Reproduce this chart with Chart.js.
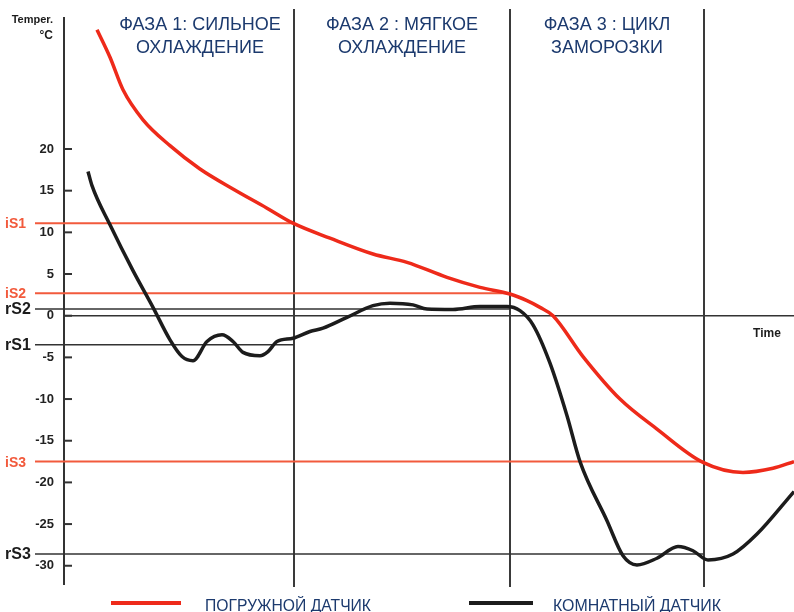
<!DOCTYPE html>
<html>
<head>
<meta charset="utf-8">
<script src="https://cdn.jsdelivr.net/npm/chart.js@4.4.1/dist/chart.umd.min.js"></script>
<style>
  html, body { margin: 0; padding: 0; background: #ffffff; }
  #wrap { width: 794px; height: 612px; position: relative; }
</style>
</head>
<body>
<div id="wrap"><canvas id="c"></canvas></div>
<script>
// ---------- DATA ----------
const yTickValues = [20, 15, 10, 5, 0, -5, -10, -15, -20, -25, -30];

const immersionTime = [3.3, 4.6, 5.9, 7.9, 10.6, 13.6, 16.9, 20.3, 22.9, 26.6, 30.9, 34.3, 38.3, 41.6, 44.6, 46.3, 47.6, 48.9, 51.9, 55.6, 59.3, 63.9, 67.9, 70.9, 73];
const immersionTemp = [34.3, 31.0, 27.1, 23.5, 20.4, 17.6, 15.2, 12.9, 11.1, 9.3, 7.4, 6.4, 4.6, 3.4, 2.6, 1.8, 1.0, 0.0, -4.9, -10.0, -13.6, -17.6, -18.8, -18.3, -17.5];

const roomTime = [2.4, 2.8, 4.6, 6.9, 8.9, 10.6, 11.8, 12.9, 14.3, 15.8, 16.9, 17.9, 19.6, 20.4, 21.3, 22.9, 24.6, 25.9, 28.3, 30.9, 32.6, 34.9, 36.3, 38.9, 41.6, 44.3, 45.6, 46.9, 48.6, 50.3, 51.6, 54.3, 55.9, 57.3, 59.3, 61.4, 62.9, 64.4, 66.9, 69.3, 73];
const roomTemp = [17.3, 15.6, 10.9, 5.4, 1.0, -2.9, -4.9, -5.4, -3.1, -2.3, -3.1, -4.4, -4.8, -4.3, -3.1, -2.7, -1.9, -1.5, -0.2, 1.2, 1.5, 1.3, 0.8, 0.75, 1.1, 1.1, 0.6, -1.1, -5.7, -12.0, -17.5, -24.6, -28.8, -29.9, -29.1, -27.7, -28.2, -29.3, -28.6, -26.2, -21.1];

const seriesNames = ['ПОГРУЖНОЙ ДАТЧИК', 'КОМНАТНЫЙ ДАТЧИК'];

const thresholdNames = ['iS1', 'iS2', 'rS2', 'rS1', 'iS3', 'rS3'];
const thresholdValues = [11.1, 2.7, 0.8, -3.5, -17.5, -28.6];
const thresholdEnds = [23.0, 44.6, 44.6, 23.0, 64.0, 64.0];

const phaseStarts = [4.2, 23.0, 44.6];
const phaseEnds = [23.0, 44.6, 64.0];
const phaseTitles = [['ФАЗА 1: СИЛЬНОЕ', 'ОХЛАЖДЕНИЕ'], ['ФАЗА 2 : МЯГКОЕ', 'ОХЛАЖДЕНИЕ'], ['ФАЗА 3 : ЦИКЛ', 'ЗАМОРОЗКИ']];

const axisTitleY = ['Temper.', '°C'];
const axisTitleX = 'Time';

// ---------- STYLE ----------
const RED = '#ee2a1a';
const ORANGE = '#f25a3c';
const BLACK = '#1c1c1c';
const LINEGRAY = '#333333';
const NAVY = '#1c3a6e';
const FONT = '"Liberation Sans", Arial, sans-serif';

const toPts = (xs, ys) => xs.map((x, i) => ({ x: x, y: ys[i] }));

const decor = {
  id: 'decor',
  beforeDatasetsDraw(chart) {
    const ctx = chart.ctx, xs = chart.scales.x, ys = chart.scales.y, ca = chart.chartArea;
    ctx.save();
    ctx.strokeStyle = LINEGRAY; ctx.lineWidth = 1.5;
    ctx.beginPath();
    const y0 = ys.getPixelForValue(0);
    ctx.moveTo(ca.left, y0); ctx.lineTo(ca.right, y0); ctx.stroke();
    ctx.strokeStyle = '#3a3a3a'; ctx.lineWidth = 2;
    phaseEnds.forEach(t => {
      const px = xs.getPixelForValue(t);
      ctx.beginPath(); ctx.moveTo(px, 9); ctx.lineTo(px, 587); ctx.stroke();
    });
    thresholdNames.forEach((n, i) => {
      const py = ys.getPixelForValue(thresholdValues[i]);
      const isI = n[0] === 'i';
      ctx.strokeStyle = isI ? ORANGE : LINEGRAY;
      ctx.lineWidth = isI ? 2 : 1.5;
      ctx.beginPath(); ctx.moveTo(35, py); ctx.lineTo(xs.getPixelForValue(thresholdEnds[i]), py); ctx.stroke();
    });
    ctx.strokeStyle = LINEGRAY; ctx.lineWidth = 2;
    yTickValues.forEach(v => {
      const py = ys.getPixelForValue(v);
      ctx.beginPath(); ctx.moveTo(ca.left, py); ctx.lineTo(ca.left + 8, py); ctx.stroke();
    });
    ctx.restore();
  },
  afterDraw(chart) {
    const ctx = chart.ctx, xs = chart.scales.x, ys = chart.scales.y;
    ctx.save();
    ctx.textBaseline = 'middle'; ctx.textAlign = 'left';
    thresholdNames.forEach((n, i) => {
      const py = ys.getPixelForValue(thresholdValues[i]);
      const isI = n[0] === 'i';
      ctx.fillStyle = isI ? ORANGE : BLACK;
      ctx.font = (isI ? 'bold 15px ' : 'bold 16px ') + FONT;
      ctx.fillText(n, 5, py + 1, isI ? 21 : 30);
    });
    ctx.fillStyle = BLACK; ctx.textAlign = 'right'; ctx.textBaseline = 'alphabetic';
    ctx.font = 'bold 11px ' + FONT;
    ctx.fillText(axisTitleY[0], 53, 23);
    ctx.font = 'bold 12px ' + FONT;
    ctx.fillText(axisTitleY[1], 53, 39);
    ctx.textAlign = 'center'; ctx.font = 'bold 12px ' + FONT;
    ctx.fillText(axisTitleX, 767, 337);
    ctx.fillStyle = NAVY; ctx.font = '18px ' + FONT;
    phaseTitles.forEach((lines, i) => {
      const cx = (xs.getPixelForValue(phaseStarts[i]) + xs.getPixelForValue(phaseEnds[i])) / 2;
      ctx.fillText(lines[0], cx, 30, 172);
      ctx.fillText(lines[1], cx, 53, 172);
    });
    const legend = [
      { color: RED, x1: 111, x2: 181, tx: 205, w: 166 },
      { color: BLACK, x1: 469, x2: 533, tx: 553, w: 168 }
    ];
    legend.forEach((l, i) => {
      ctx.strokeStyle = l.color; ctx.lineWidth = 4;
      ctx.beginPath(); ctx.moveTo(l.x1, 603); ctx.lineTo(l.x2, 603); ctx.stroke();
      ctx.fillStyle = NAVY; ctx.textAlign = 'left'; ctx.font = '17px ' + FONT;
      ctx.fillText(seriesNames[i], l.tx, 611, l.w);
    });
    ctx.restore();
  }
};

new Chart(document.getElementById('c'), {
  type: 'line',
  data: {
    datasets: [
      { label: seriesNames[0], data: toPts(immersionTime, immersionTemp), borderColor: RED, borderWidth: 3.5, pointRadius: 0, cubicInterpolationMode: 'monotone', fill: false },
      { label: seriesNames[1], data: toPts(roomTime, roomTemp), borderColor: BLACK, borderWidth: 3.5, pointRadius: 0, cubicInterpolationMode: 'monotone', fill: false }
    ]
  },
  options: {
    responsive: true,
    maintainAspectRatio: false,
    animation: false,
    layout: { padding: { left: 0, right: 0, top: 10, bottom: 28 } },
    plugins: { legend: { display: false }, tooltip: { enabled: false } },
    scales: {
      x: { type: 'linear', min: 0, max: 73, display: false },
      y: {
        type: 'linear', min: -32.19, max: 35.74,
        afterBuildTicks(scale) { scale.ticks = yTickValues.map(v => ({ value: v })); },
        afterFit(scale) { scale.width = 64; },
        grid: { display: false, drawTicks: false },
        border: { display: true, color: LINEGRAY, width: 2 },
        ticks: { padding: 10, color: '#222', font: { family: FONT, size: 13, weight: 'bold' } }
      }
    }
  },
  plugins: [decor]
});
</script>
</body>
</html>
